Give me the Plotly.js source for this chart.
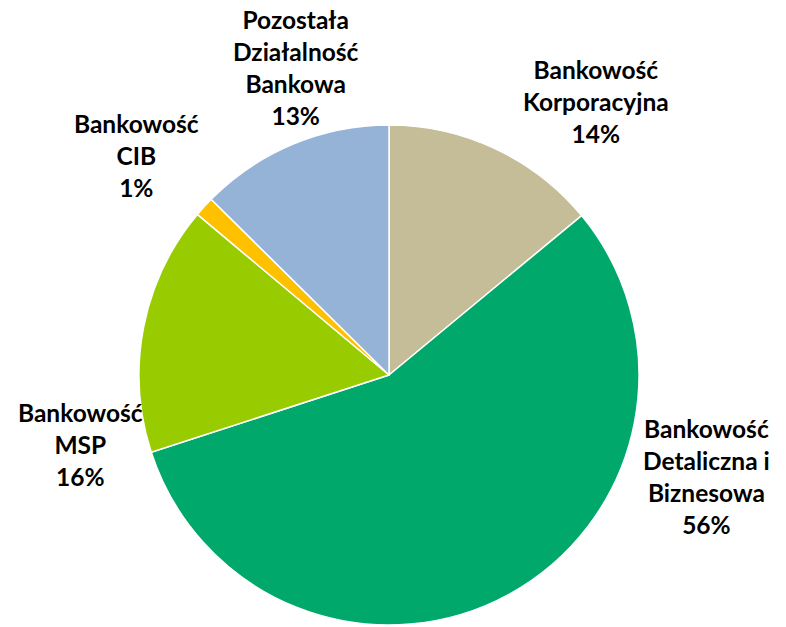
<!DOCTYPE html>
<html>
<head>
<meta charset="utf-8">
<script src="https://cdn.plot.ly/plotly-3.0.1.min.js"></script>
<style>html,body{margin:0;padding:0;background:#fff;}#chart{width:786px;height:627px;}</style>
</head>
<body>
<div id="chart"></div>
<script>
// Segments, clockwise from 12 o'clock
var labels = ["Bankowość Korporacyjna", "Bankowość Detaliczna i Biznesowa", "Bankowość MSP", "Bankowość CIB", "Pozostała Działalność Bankowa"];
var labelLines = [
  ["Bankowość", "Korporacyjna"],
  ["Bankowość", "Detaliczna i", "Biznesowa"],
  ["Bankowość", "MSP"],
  ["Bankowość", "CIB"],
  ["Pozostała", "Działalność", "Bankowa"]
];
var values = [14.0, 56.0, 16.1, 1.3, 12.6];
var colors = ["#C4BD97", "#00A86B", "#99CC00", "#FFC000", "#95B3D7"];

var W = 786, H = 627;
var cx = 389, cy = 375, R = 250;
// label anchor positions (pixels, centre of text block)
var labelPos = [[596, 101], [706, 476], [80, 444], [136, 155], [296, 68]];

var total = values.reduce(function(a, b){ return a + b; }, 0);
var annotations = labels.map(function(l, i){
  var pct = Math.round(values[i] / total * 100) + "%";
  return {
    text: labelLines[i].join("<br>") + "<br>" + pct,
    x: labelPos[i][0] / W, y: 1 - labelPos[i][1] / H,
    xref: "paper", yref: "paper", xanchor: "center", yanchor: "middle",
    showarrow: false, align: "center",
    font: {family: "Lato, 'Open Sans', sans-serif", size: 24.5, color: "#000000", weight: "bold"}
  };
});

var trace = {
  type: "pie",
  labels: labels,
  values: values,
  sort: false,
  direction: "clockwise",
  rotation: 0,
  textinfo: "none",
  hoverinfo: "label+percent",
  marker: {colors: colors, line: {color: "#ffffff", width: 1.5}},
  domain: {x: [(cx - R) / W, (cx + R) / W], y: [(H - cy - R) / H, (H - cy + R) / H]}
};

var layout = {
  width: W, height: H,
  margin: {l: 0, r: 0, t: 0, b: 0},
  showlegend: false,
  paper_bgcolor: "#ffffff",
  annotations: annotations
};

Plotly.newPlot("chart", [trace], layout, {displayModeBar: false, staticPlot: true});
</script>
</body>
</html>
